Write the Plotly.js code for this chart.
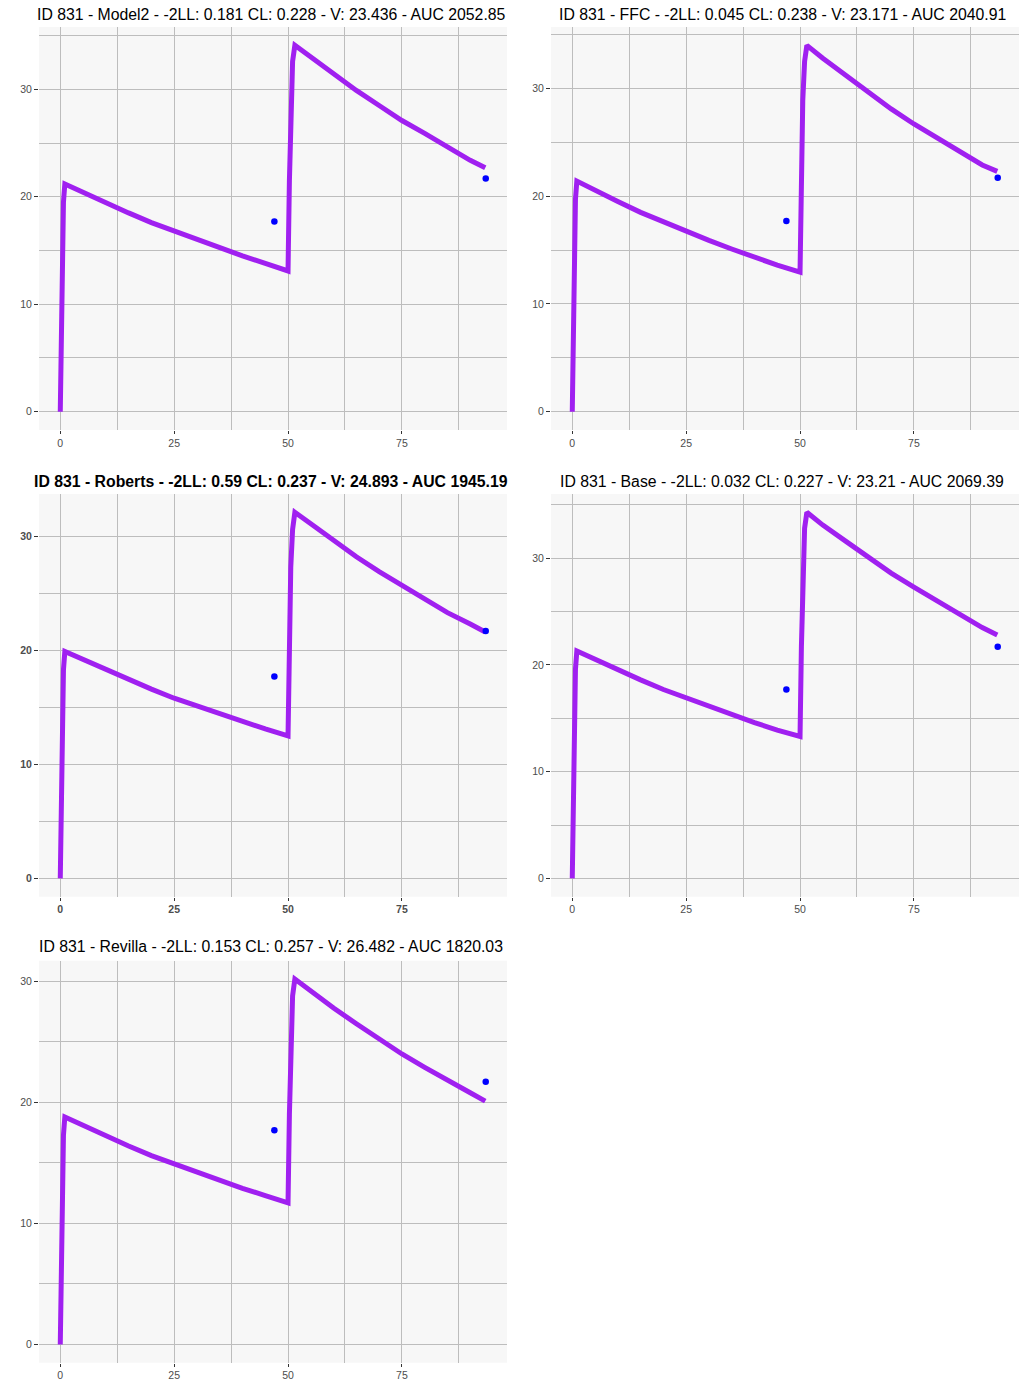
<!DOCTYPE html>
<html>
<head>
<meta charset="utf-8">
<script src="https://cdn.plot.ly/plotly-3.0.1.min.js"></script>
<style>
  html, body { margin: 0; padding: 0; background: #ffffff; }
  #chart { width: 1024px; height: 1400px; }
</style>
</head>
<body>
<div id="chart"></div>
<script>
// ---- Data ----
const simTime = [0, 0.3, 0.5, 0.7, 1, 5, 10, 15, 20, 25, 30, 35, 40, 45, 50,
                 50.3, 50.6, 51, 51.5, 55, 60, 65, 70, 75, 80, 85, 90, 93.3];

const concModel2  = [0, 10.0, 15.5, 19.5, 21.2, 20.4, 19.4, 18.5, 17.6, 16.8, 16.0, 15.2, 14.5, 13.8, 13.1,
                     21.5, 29.0, 32.6, 34.1, 33.0, 31.4, 29.9, 28.5, 27.1, 25.9, 24.6, 23.4, 22.7];
const concFFC     = [0, 10.1, 15.6, 19.7, 21.4, 20.5, 19.5, 18.5, 17.6, 16.7, 15.9, 15.1, 14.3, 13.6, 12.95,
                     21.4, 28.9, 32.5, 34.0, 32.8, 31.2, 29.6, 28.1, 26.7, 25.4, 24.1, 22.9, 22.3];
const concRoberts = [0, 9.4, 14.5, 18.3, 19.9, 19.2, 18.3, 17.4, 16.6, 15.8, 15.1, 14.4, 13.7, 13.1, 12.5,
                     20.3, 27.3, 30.6, 32.1, 31.1, 29.6, 28.2, 26.9, 25.7, 24.5, 23.3, 22.3, 21.6];
const concBase    = [0, 10.0, 15.6, 19.6, 21.3, 20.5, 19.5, 18.6, 17.7, 16.9, 16.1, 15.3, 14.6, 13.9, 13.3,
                     21.7, 29.2, 32.8, 34.3, 33.1, 31.6, 30.1, 28.6, 27.3, 26.0, 24.7, 23.5, 22.8];
const concRevilla = [0, 8.9, 13.7, 17.3, 18.8, 18.1, 17.2, 16.4, 15.6, 14.9, 14.2, 13.5, 12.9, 12.3, 11.7,
                     19.0, 25.6, 28.8, 30.2, 29.2, 27.8, 26.5, 25.2, 24.0, 22.9, 21.8, 20.8, 20.1];

const obsTime = [47.0, 93.4];
const obsConc = [17.7, 21.7];

const panelTitles = [
  "ID 831 - Model2 - -2LL: 0.181 CL: 0.228 - V: 23.436 - AUC 2052.85",
  "ID 831 - FFC - -2LL: 0.045 CL: 0.238 - V: 23.171 - AUC 2040.91",
  "ID 831 - Roberts - -2LL: 0.59 CL: 0.237 - V: 24.893 - AUC 1945.19",
  "ID 831 - Base - -2LL: 0.032 CL: 0.227 - V: 23.21 - AUC 2069.39",
  "ID 831 - Revilla - -2LL: 0.153 CL: 0.257 - V: 26.482 - AUC 1820.03"
];
const panelConc = [concModel2, concFFC, concRoberts, concBase, concRevilla];
const panelBold = [false, false, true, false, false];
const xTickVals = [0, 25, 50, 75];
const yTickVals = [0, 10, 20, 30];

// ---- Layout geometry (pixels) ----
const W = 1024, H = 1400;
const cols = [[39, 507], [551, 1019]];
const rows = [[27, 430], [494, 896.7], [960.7, 1362.7]];
const titleCenters = [[271, 14], [782, 14], [271, 481], [782, 481], [271, 947]];
const cells = [[0,0],[1,0],[0,1],[1,1],[0,2]];

const FONT = "Liberation Sans, Arial, sans-serif";
const GRID = "#bdbdbd";

const traces = [];
const layout = {
  width: W, height: H,
  margin: {l: 0, r: 0, t: 0, b: 0},
  paper_bgcolor: "#ffffff",
  plot_bgcolor: "#f7f7f7",
  showlegend: false,
  annotations: []
};

const xMax = Math.max(Math.max.apply(null, simTime), Math.max.apply(null, obsTime));

panelConc.forEach((conc, i) => {
  const n = i + 1;
  const xa = n === 1 ? "x" : "x" + n;
  const ya = n === 1 ? "y" : "y" + n;
  const [c, r] = cells[i];
  const bold = panelBold[i];

  traces.push({
    x: simTime, y: conc, xaxis: xa, yaxis: ya,
    type: "scatter", mode: "lines",
    line: {color: "#A020F0", width: 5},
    hoverinfo: "skip"
  });
  traces.push({
    x: obsTime, y: obsConc, xaxis: xa, yaxis: ya,
    type: "scatter", mode: "markers",
    marker: {color: "#0000FF", size: 6.5},
    hoverinfo: "skip"
  });

  const yMax = Math.max(Math.max.apply(null, conc), Math.max.apply(null, obsConc));
  const tickfont = {family: FONT, size: 10.5, color: "#4d4d4d", weight: bold ? "bold" : "normal"};

  const common = {
    showline: false, zeroline: false,
    ticks: "outside", tickwidth: 1, tickcolor: "#333333",
    showgrid: true, gridcolor: GRID, gridwidth: 1,
    tickfont: tickfont, fixedrange: true
  };

  layout["xaxis" + (n === 1 ? "" : n)] = Object.assign({}, common, {
    anchor: ya, ticklen: 3,
    domain: [cols[c][0] / W, cols[c][1] / W],
    range: [-0.05 * xMax, 1.05 * xMax],
    tickmode: "array", tickvals: xTickVals,
    minor: {tickmode: "array", tickvals: [12.5, 37.5, 62.5, 87.5], showgrid: true, gridcolor: GRID, gridwidth: 1, ticks: ""}
  });
  layout["yaxis" + (n === 1 ? "" : n)] = Object.assign({}, common, {
    anchor: xa, ticklen: 4,
    domain: [(H - rows[r][1]) / H, (H - rows[r][0]) / H],
    range: [-0.05 * yMax, 1.05 * yMax],
    tickmode: "array", tickvals: yTickVals,
    minor: {tickmode: "array", tickvals: [5, 15, 25, 35], showgrid: true, gridcolor: GRID, gridwidth: 1, ticks: ""}
  });

  layout.annotations.push({
    text: panelTitles[i],
    xref: "paper", yref: "paper",
    x: titleCenters[i][0] / W, y: 1 - titleCenters[i][1] / H,
    xanchor: "center", yanchor: "middle",
    showarrow: false,
    font: {family: FONT, size: 15.8, color: "#000000", weight: bold ? "bold" : "normal"}
  });
});

Plotly.newPlot("chart", traces, layout, {displayModeBar: false, staticPlot: true});
</script>
</body>
</html>
